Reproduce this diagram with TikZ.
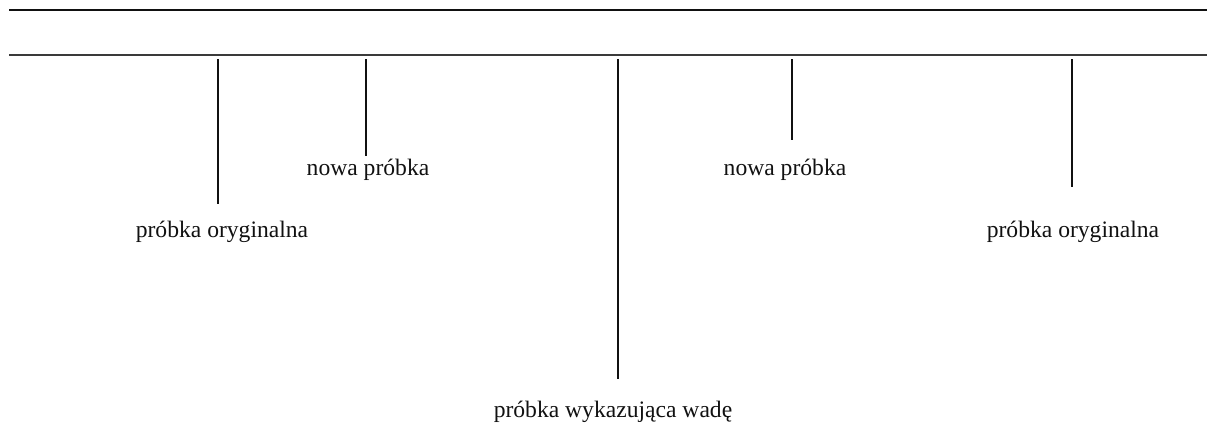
\documentclass[tikz,border=0pt]{standalone}
\usepackage{fontspec}
\setmainfont{Liberation Serif}
\usepackage{tikz}
\usetikzlibrary{positioning}
\definecolor{ink}{HTML}{111111}
\definecolor{rule}{HTML}{3A3A3A}

\begin{document}
\begin{tikzpicture}[x=0.5pt,y=-0.5pt,font=\fontsize{11.8}{14}\selectfont,
    kreska/.style={draw=ink,line width=1pt},
    opis/.style={anchor=base,inner sep=0pt,text=ink}]
  \useasboundingbox (0,0) rectangle (1207,425);
  % the two rules across the page
  \coordinate (g0) at (9,10);   \coordinate (g1) at (1207,10);
  \coordinate (d0) at (9,55);   \coordinate (d1) at (1207,55);
  \draw[draw=ink,line width=0.65pt] (g0) -- (g1);
  \draw[draw=rule,line width=0.8pt] (d0) -- (d1);
  % labels
  \node[opis] (oryg1) at (222,237) {próbka oryginalna};
  \node[opis] (nowa1) at (368,175) {nowa próbka};
  \node[opis] (wada)  at (613,417) {próbka wykazująca wadę};
  \node[opis] (nowa2) at (785,175) {nowa próbka};
  \node[opis] (oryg2) at (1073,237) {próbka oryginalna};
  % ticks hanging from the lower rule
  \coordinate (t1) at (218,59);   \coordinate (e1) at (218,204);
  \coordinate (t2) at (366,59);   \coordinate (e2) at (366,156);
  \coordinate (t3) at (618,59);   \coordinate (e3) at (618,379);
  \coordinate (t4) at (792,59);   \coordinate (e4) at (792,140);
  \coordinate (t5) at (1072,59);  \coordinate (e5) at (1072,187);
  \foreach \i in {1,...,5}
    \draw[kreska] (t\i) -- (e\i);
\end{tikzpicture}
\end{document}
